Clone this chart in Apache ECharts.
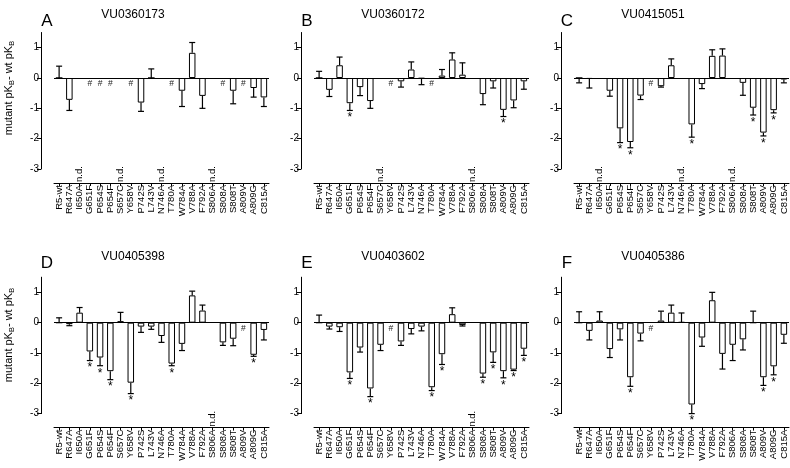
<!DOCTYPE html>
<html><head><meta charset="utf-8">
<script src="https://cdn.jsdelivr.net/npm/echarts@6/dist/echarts.min.js"></script>
<style>html,body{margin:0;padding:0;background:#fff}#c{width:790px;height:468px}</style>
</head><body><div id="c"></div>
<script>
const cats = ['R5-wt','R647A','I650A','G651F','P654S','P654F','S657C','Y658V','P742S','L743V','N746A','T780A','W784A','V788A','F792A','S806A','S808A','S808T','A809V','A809G','C815A'];
const yTicks = [-3,-2,-1,0,1];

const valsA = [0, -0.72, null, null, null, null, null, null, -0.81, 0.0, null, null, -0.42, 0.83, -0.59, null, null, -0.42, null, -0.33, -0.64];
const errA  = [0.39, -1.07, null, null, null, null, null, null, -1.1, 0.3, null, null, -0.94, 1.17, -1.0, null, null, -0.85, null, -0.63, -0.94];
const starsA = [];
const ndA = ['I650A','S657C','N746A','S806A'];
const hashA = ['G651F','P654S','P654F','Y658V','T780A','S808A','A809V'];

const valsB = [0, -0.39, 0.42, -0.83, -0.3, -0.76, null, null, -0.11, 0.28, -0.02, null, 0.08, 0.61, 0.11, null, -0.53, -0.11, -1.05, -0.74, -0.11];
const errB  = [0.22, -0.61, 0.69, -1.07, -0.58, -1.0, null, null, -0.3, 0.53, -0.22, null, 0.28, 0.83, 0.5, null, -0.88, -0.33, -1.27, -0.98, -0.37];
const starsB = ['G651F','A809V'];
const ndB = ['S657C','S806A'];
const hashB = ['Y658V','T780A'];

const valsC = [0, -0.03, null, -0.42, -1.66, -2.11, -0.58, null, -0.27, 0.42, null, -1.53, -0.2, 0.73, 0.74, null, -0.16, -0.98, -1.8, -1.06, -0.05];
const errC  = [-0.16, -0.33, null, -0.6, -2.13, -2.3, -0.71, null, -0.3, 0.63, null, -1.95, -0.35, 0.93, 0.96, null, -0.57, -1.22, -1.91, -1.15, -0.16];
const starsC = ['P654S','P654F','T780A','S808T','A809V','A809G'];
const ndC = ['I650A','N746A','S806A'];
const hashC = ['Y658V'];

const valsD = [0, -0.05, 0.33, -0.95, -1.15, -1.6, 0.05, -1.98, -0.13, -0.13, -0.44, -1.35, -0.7, 0.9, 0.4, null, -0.65, -0.53, null, -1.06, -0.24];
const errD  = [0.16, -0.1, 0.5, -1.25, -1.42, -1.88, 0.34, -2.34, -0.32, -0.22, -0.65, -1.42, -0.92, 1.04, 0.58, null, -0.75, -0.76, null, -1.11, -0.57];
const starsD = ['G651F','P654S','P654F','Y658V','T780A','A809G'];
const ndD = ['S806A'];
const hashD = ['A809V'];

const valsE = [0, -0.13, -0.15, -1.64, -0.82, -2.17, -0.73, null, -0.62, -0.21, -0.13, -2.13, -1.04, 0.28, -0.08, null, -1.68, -0.98, -1.6, -1.55, -0.86];
const errE  = [0.25, -0.21, -0.29, -1.84, -0.97, -2.44, -0.92, null, -0.75, -0.37, -0.27, -2.24, -1.38, 0.49, -0.11, null, -1.8, -1.31, -1.82, -1.58, -1.08];
const starsE = ['G651F','P654F','T780A','W784A','S808A','S808T','A809V','A809G','C815A'];
const ndE = ['S806A'];
const hashE = ['Y658V'];

const valsF = [0, -0.27, 0.07, -0.87, -0.22, -1.8, -0.36, null, 0.07, 0.33, 0.02, -2.7, -0.49, 0.74, -1.03, -0.73, -0.55, 0, -1.8, -1.44, -0.4];
const errF  = [0.36, -0.57, 0.36, -1.15, -0.57, -2.1, -0.6, null, 0.38, 0.58, 0.32, -3.0, -0.78, 1.0, -1.53, -1.25, -0.9, 0.38, -2.07, -1.72, -0.68];
const starsF = ['P654F','T780A','A809V','A809G'];
const ndF = [];
const hashF = ['Y658V'];

const letters = ['A','B','C','D','E','F'];
const titles = ['VU0360173','VU0360172','VU0415051','VU0405398','VU0403602','VU0405386'];

const panels = [
  {vals: valsA, errs: errA, stars: starsA, nd: ndA, hash: hashA},
  {vals: valsB, errs: errB, stars: starsB, nd: ndB, hash: hashB},
  {vals: valsC, errs: errC, stars: starsC, nd: ndC, hash: hashC},
  {vals: valsD, errs: errD, stars: starsD, nd: ndD, hash: hashD},
  {vals: valsE, errs: errE, stars: starsE, nd: ndE, hash: hashE},
  {vals: valsF, errs: errF, stars: starsF, nd: ndF, hash: hashF}
];

const FONT = 'Liberation Sans, Arial, sans-serif';
const colX = [0, 260, 520];
const rows = [{top: 32.5, h: 136.5, titleY: 15, letterY: 21, labelY: 88},
              {top: 277.2, h: 136.4, titleY: 257, letterY: 263, labelY: 335}];

const grid = [], xAxis = [], yAxis = [], series = [], graphic = [];

panels.forEach((p, k) => {
  const cx = colX[k % 3], r = rows[Math.floor(k / 3)];
  grid.push({left: 54 + cx, top: r.top, width: 215, height: r.h, containLabel: false});
  xAxis.push({
    type: 'category', gridIndex: k, data: cats, position: 'bottom', offset: 14,
    boundaryGap: true,
    axisLine: {show: true, onZero: false, lineStyle: {color: '#000', width: 1}},
    axisTick: {show: true, alignWithLabel: true, length: 3, lineStyle: {color: '#000'}},
    axisLabel: {rotate: 90, interval: 0, fontSize: 9.5, margin: 2, color: '#000', fontFamily: FONT},
    splitLine: {show: false}
  });
  yAxis.push({
    type: 'value', gridIndex: k, min: -3, max: 1.5, offset: 13,
    axisLine: {show: true, lineStyle: {color: '#000', width: 1}},
    axisTick: {show: true, length: 4, customValues: yTicks, lineStyle: {color: '#000'}},
    axisLabel: {customValues: yTicks, fontSize: 10, margin: 2, color: '#000', fontFamily: FONT},
    splitLine: {show: false}
  });
  series.push({
    type: 'bar', xAxisIndex: k, yAxisIndex: k, barWidth: 6.5,
    data: p.vals.map(v => v == null ? '-' : v),
    itemStyle: {color: '#fff', borderColor: '#000', borderWidth: 1},
    silent: true, animation: false,
    markLine: {silent: true, symbol: 'none', animation: false,
      label: {show: false}, lineStyle: {color: '#000', width: 1, type: 'solid'},
      data: [{yAxis: 0}]}
  });
  series.push({
    type: 'custom', xAxisIndex: k, yAxisIndex: k, silent: true, animation: false, z: 5,
    data: cats.map((c, i) => [i, 0]),
    renderItem: function (params, api) {
      const i = params.dataIndex, name = cats[i];
      const ch = [];
      const v = p.vals[i], e = p.errs[i];
      if (v != null && e != null) {
        const a = api.coord([i, v]), b = api.coord([i, e]);
        ch.push({type: 'line', shape: {x1: a[0], y1: a[1], x2: b[0], y2: b[1]}, style: {stroke: '#000', lineWidth: 1.2}});
        ch.push({type: 'line', shape: {x1: b[0] - 3, y1: b[1], x2: b[0] + 3, y2: b[1]}, style: {stroke: '#000', lineWidth: 1.2}});
        if (p.stars.includes(name)) {
          ch.push({type: 'text', x: b[0], y: b[1] + 1.5, style: {text: '*', fontSize: 12, fontFamily: FONT, fill: '#000', align: 'center', verticalAlign: 'top'}});
        }
      }
      if (p.hash.includes(name)) {
        const z = api.coord([i, 0]);
        ch.push({type: 'text', x: z[0], y: z[1] + 6, style: {text: '#', fontSize: 8.5, fontFamily: FONT, fill: '#222', align: 'center', verticalAlign: 'middle'}});
      }
      if (p.nd.includes(name)) {
        const z = api.coord([i, -3]);
        ch.push({type: 'text', x: z[0], y: z[1] + 13, rotation: Math.PI / 2, style: {text: 'n.d.', fontSize: 9.5, fontFamily: FONT, fill: '#000', align: 'left', verticalAlign: 'middle'}});
      }
      return {type: 'group', children: ch};
    }
  });
  graphic.push({type: 'text', x: cx + 133, y: r.titleY, style: {text: titles[k], fontSize: 12, fontFamily: FONT, fill: '#000', align: 'center', verticalAlign: 'middle'}});
  graphic.push({type: 'text', x: cx + 47, y: r.letterY, style: {text: letters[k], fontSize: 17, fontFamily: FONT, fill: '#000', align: 'center', verticalAlign: 'middle'}});
  if (k % 3 === 0) {
    graphic.push({type: 'text', x: 9, y: r.labelY, rotation: Math.PI / 2,
      style: {text: '{n|mutant pK}{s|B}{n|- wt pK}{s|B}', align: 'center', verticalAlign: 'middle', fill: '#000',
        rich: {n: {fontSize: 11, fontFamily: FONT, lineHeight: 14, fill: '#000'},
               s: {fontSize: 7.5, fontFamily: FONT, lineHeight: 8, verticalAlign: 'bottom', padding: [5, 0, 0, 0], fill: '#000'}}}});
  }
});

const chart = echarts.init(document.getElementById('c'), null, {renderer: 'canvas'});
chart.setOption({animation: false, backgroundColor: '#fff', grid, xAxis, yAxis, series, graphic});
</script>
</body></html>
